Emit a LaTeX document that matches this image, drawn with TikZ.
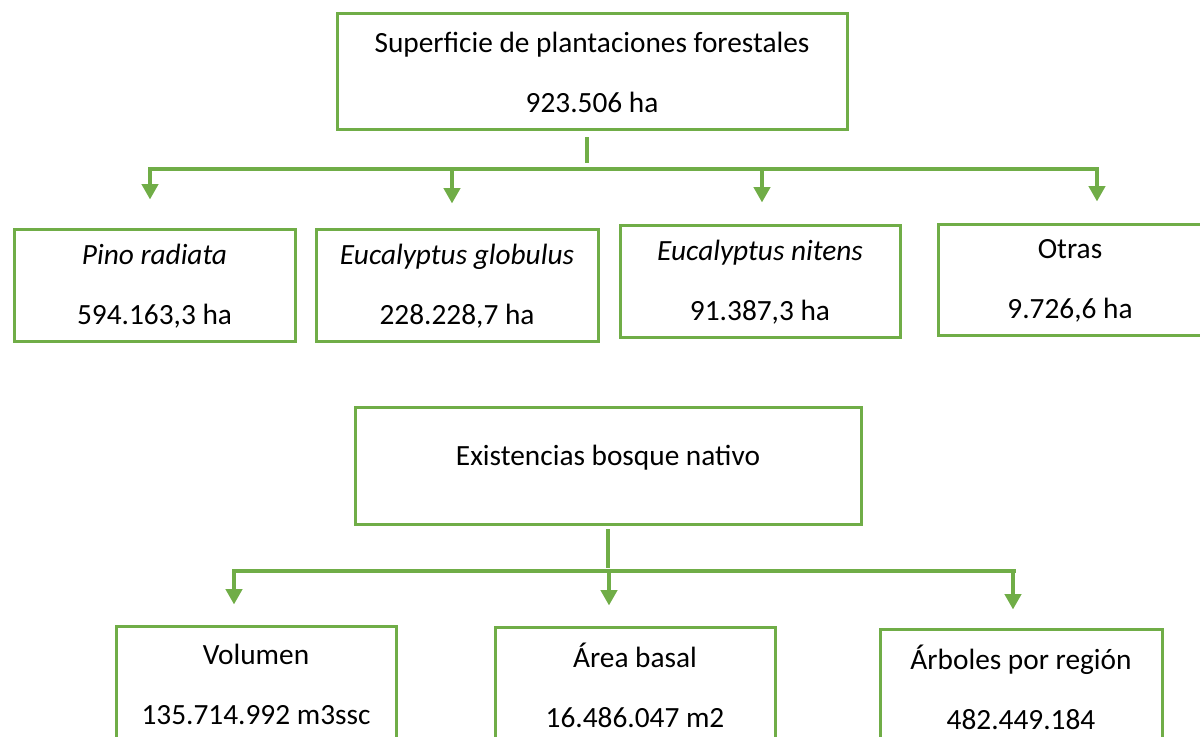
\documentclass[tikz,border=0pt]{standalone}
\usepackage{fontspec}
\setmainfont{Carlito}
\usetikzlibrary{arrows.meta,calc}
\definecolor{hojaverde}{HTML}{70AD47}
\tikzset{
	caja/.style={draw=hojaverde, line width=2.25pt, align=center, inner sep=0pt, font=\fontsize{22}{45}\selectfont, execute at begin node={\rule{0pt}{22pt}}},
	enlace/.style={draw=hojaverde, line width=3pt},
	flecha/.style={enlace, -{Triangle[width=12pt,length=11.5pt]}},
	codo/.style={enlace, {Triangle[width=12pt,length=11.5pt]}-{Triangle[width=12pt,length=11.5pt]}},
	codoizq/.style={enlace, {Triangle[width=12pt,length=11.5pt]}-}
}

\begin{document}
\begin{tikzpicture}[x=0.75pt,y=-0.75pt]
			%%%%% START %%%%%
			
			\clip (0,0) rectangle (1200,737);
			
			\node[caja, minimum width=382.5pt, minimum height=87pt] (sup) at (592,72) {Superficie de plantaciones forestales\\923.506 ha};
			
			\node[caja, minimum width=210.75pt, minimum height=84pt] (pino) at (154.5,286) {\textit{Pino radiata}\\594.163,3 ha};
			\node[caja, minimum width=211.5pt, minimum height=84pt] (glob) at (457,286) {\textit{Eucalyptus globulus}\\228.228,7 ha};
			\node[caja, minimum width=210pt, minimum height=84pt] (nit) at (760,282) {\textit{Eucalyptus nitens}\\91.387,3 ha};
			\node[caja, minimum width=198pt, minimum height=83.25pt] (otras) at (1070,280.5) {Otras\\9.726,6 ha};
			
			\coordinate (barra1a) at (150,169);
			\coordinate (barra1b) at (1097,169);
			
			\draw[enlace] ($(sup.south)+(-5,6)$) -- ++(0,26);
			\draw[codo] ($(pino.north)+(-4.5,-29)$) -- (barra1a) -- (barra1b) -- ($(otras.north)+(27,-22)$);
			\draw[flecha] ($(glob.north)+(-5,-57)$) -- ($(glob.north)+(-5,-25)$);
			\draw[flecha] ($(nit.north)+(2,-57)$) -- ($(nit.north)+(2,-22)$);
			
			\node[caja, minimum width=379.5pt, minimum height=87.75pt, text depth=24pt] (exist) at (608,466.5) {Existencias bosque nativo};
			
			\node[caja, minimum width=210pt, minimum height=86.25pt] (vol) at (256,684.5) {Volumen\\135.714.992 m3ssc};
			\node[caja, minimum width=210pt, minimum height=86.25pt] (area) at (635,685.5) {Área basal\\16.486.047 m2};
			\node[caja, minimum width=211.5pt, minimum height=86.25pt] (arb) at (1021,687.5) {Árboles por región\\482.449.184};
			
			\coordinate (barra2a) at (234,571);
			\coordinate (barra2b) at (1016,571);
			
			\draw[enlace] ($(exist.south)+(0,3)$) -- ++(0,39);
			\draw[codoizq] ($(vol.north)+(-22,-21)$) -- (barra2a) -- (barra2b);
			\draw[flecha] ($(area.north)+(-26,-57)$) -- ($(area.north)+(-26,-21)$);
			\draw[flecha] ($(arb.north)+(-8,-55)$) -- ($(arb.north)+(-8,-19)$);
			
			%%%%% END %%%%%
\end{tikzpicture}
\end{document}
